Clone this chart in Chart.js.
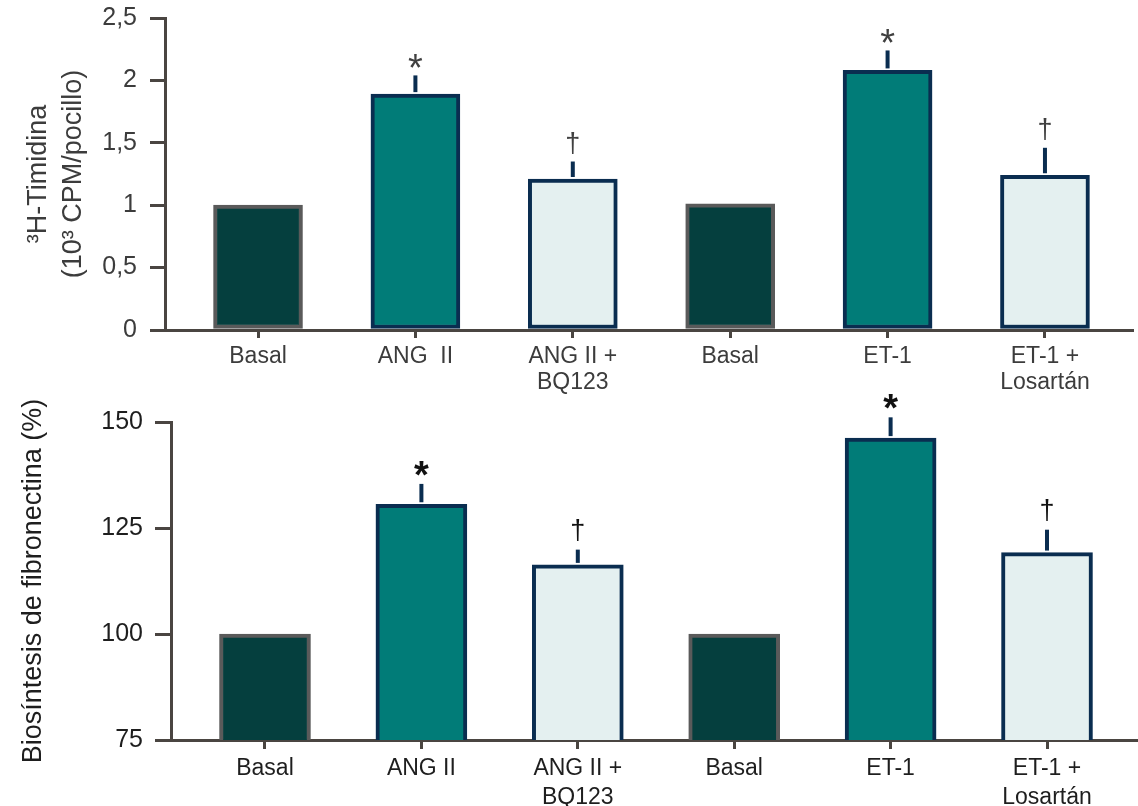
<!DOCTYPE html>
<html><head><meta charset="utf-8">
<script src="https://cdn.jsdelivr.net/npm/chart.js@4.4.1/dist/chart.umd.min.js"></script>
<style>
html,body{margin:0;padding:0;background:#fff;}
#wrap{position:relative;width:1138px;height:806px;overflow:hidden;}
canvas{position:absolute;left:0;}
#c1{top:0;} #c2{top:370px;}
</style></head><body>
<div id="wrap"><canvas id="c1" width="1138" height="400"></canvas><canvas id="c2" width="1138" height="436"></canvas></div>
<script>
// ---- data ----
const categoriesTop = ['Basal', 'ANG  II', ['ANG II +', 'BQ123'], 'Basal', 'ET-1', ['ET-1 +', 'Losartán']];
const categoriesBottom = ['Basal', 'ANG II', ['ANG II +', 'BQ123'], 'Basal', 'ET-1', ['ET-1 +', 'Losartán']];
const thymidineValues = [1.0, 1.89, 1.21, 1.01, 2.08, 1.24];
const thymidineErrors = [0, 0.15, 0.14, 0, 0.16, 0.22];
const fibronectinValues = [100, 130.6, 116.3, 100, 146.2, 119.2];
const fibronectinErrors = [0, 4.8, 3.6, 0, 4.9, 5.4];
const significanceMarks = ['', '*', '†', '', '*', '†'];
const thymidineTicks = [0, 0.5, 1, 1.5, 2, 2.5];
const fibronectinTicks = [75, 100, 125, 150];
const thymidineTitle = ['³H-Timidina', '(10³ CPM/pocillo)'];
const fibronectinTitle = 'Biosíntesis de fibronectina (%)';

// ---- styles ----
const FONT = "'Liberation Sans', Arial, Helvetica, sans-serif";
Chart.defaults.font.family = FONT;
const DARK = '#053F3E', TEAL = '#017C78', LIGHT = '#E4F0F0';
const GREY_B = '#5A5A5A', NAVY = '#0A2D50';
const fills = [DARK, TEAL, LIGHT, DARK, TEAL, LIGHT];
const borders = [GREY_B, NAVY, NAVY, GREY_B, NAVY, NAVY];
const AXIS = '#4A4541';

const errorBarPlugin = {
  id: 'errorBars',
  afterDatasetsDraw(chart, args, opts) {
    const {ctx, scales: {x, y}} = chart;
    ctx.save();
    opts.values.forEach((v, i) => {
      const e = opts.errors[i];
      const px = x.getPixelForValue(i);
      const y0 = y.getPixelForValue(v);
      const y1 = y.getPixelForValue(v + e);
      if (e > 0) {
        ctx.beginPath();
        ctx.strokeStyle = NAVY;
        ctx.lineWidth = 4;
        ctx.lineCap = 'butt';
        ctx.moveTo(px, y0 - 2);
        ctx.lineTo(px, y1);
        ctx.stroke();
      }
      const m = opts.marks[i];
      if (m) {
        ctx.fillStyle = opts.markColor;
        ctx.textAlign = 'center';
        ctx.textBaseline = 'alphabetic';
        if (m === '*') {
          ctx.font = opts.starWeight + ' 38px ' + FONT;
          ctx.fillText(m, px, y1 + opts.starShift);
        } else {
          ctx.font = '27px ' + FONT;
          ctx.fillText(m, px, y1 - opts.daggerShift);
        }
      }
    });
    ctx.restore();
  }
};

function makeChart(id, cfg) {
  const data = cfg.values.map((v, i) => ({x: i, y: v}));
  return new Chart(document.getElementById(id), {
    type: 'bar',
    data: {datasets: [{
      data: data,
      backgroundColor: fills,
      borderColor: borders,
      borderWidth: 4,
      borderSkipped: false,
      barThickness: cfg.barW
    }]},
    options: {
      responsive: false,
      animation: false,
      devicePixelRatio: 1,
      layout: {padding: {top: cfg.padTop, right: cfg.padRight, left: 0, bottom: 0}},
      plugins: {
        legend: {display: false},
        tooltip: {enabled: false},
        errorBars: {values: cfg.values, errors: cfg.errors, marks: significanceMarks,
          markColor: cfg.markColor, starWeight: cfg.starWeight, starShift: cfg.starShift, daggerShift: cfg.daggerShift}
      },
      scales: {
        x: {
          type: 'linear',
          offset: false,
          min: cfg.xMin, max: cfg.xMax,
          afterBuildTicks: s => { s.ticks = cfg.cats.map((c, i) => ({value: i})); },
          afterFit: s => { s.height = cfg.xH; s.paddingLeft = 0; s.paddingRight = 0; },
          grid: {offset: false, drawOnChartArea: false, drawTicks: true, tickLength: cfg.xTL, lineWidth: 3, color: AXIS},
          border: {display: true, color: AXIS, width: 3},
          ticks: {
            autoSkip: false, maxRotation: 0, padding: cfg.xPad, color: cfg.textColor,
            font: {size: 23, lineHeight: cfg.xLH},
            callback: v => cfg.cats[v]
          }
        },
        y: {
          min: cfg.yTicks[0], max: cfg.yTicks[cfg.yTicks.length - 1],
          afterBuildTicks: s => { s.ticks = cfg.yTicks.map(v => ({value: v})); },
          afterFit: s => { s.width = cfg.yW; s.paddingTop = 0; s.paddingBottom = 0; },
          grid: {drawOnChartArea: false, drawTicks: true, tickLength: cfg.yTL, lineWidth: 3, color: AXIS},
          border: {display: true, color: AXIS, width: 3},
          ticks: {
            padding: cfg.yPad, color: cfg.textColor, font: {size: 25},
            callback: v => String(v).replace('.', ',')
          },
          title: {display: true, text: cfg.title, color: cfg.textColor,
            font: {size: 27, lineHeight: 1.3}, padding: {top: cfg.titlePad, bottom: 0}}
        }
      }
    },
    plugins: [errorBarPlugin]
  });
}

makeChart('c1', {
  values: thymidineValues, errors: thymidineErrors, cats: categoriesTop, yTicks: thymidineTicks,
  title: thymidineTitle, barW: 89, padTop: 18, padRight: 6,
  xMin: -0.591, xMax: 5.553, xH: 70, xTL: 8, xPad: 5, xLH: 1.15,
  yW: 165, yTL: 15, yPad: 13, titlePad: 21,
  textColor: '#3C3C3C', markColor: '#404040', starWeight: 'normal', starShift: 6, daggerShift: 10
});
makeChart('c2', {
  values: fibronectinValues, errors: fibronectinErrors, cats: categoriesBottom, yTicks: fibronectinTicks,
  title: fibronectinTitle, barW: 91, padTop: 52, padRight: 2,
  xMin: -0.601, xMax: 5.569, xH: 66, xTL: 9, xPad: 5, xLH: 1.26,
  yW: 171, yTL: 16, yPad: 12, titlePad: 16,
  textColor: '#1E1E1E', markColor: '#111111', starWeight: 'bold', starShift: 4, daggerShift: 11
});
</script>
</body></html>
